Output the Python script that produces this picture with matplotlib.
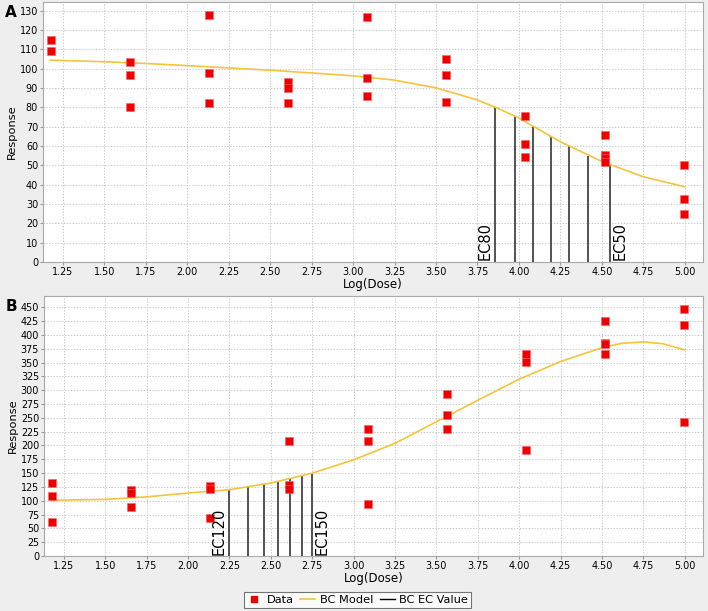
import numpy as np
import matplotlib
matplotlib.use("Agg")
import matplotlib.pyplot as plt
from matplotlib.lines import Line2D

plt.rcParams.update({
    "font.family": "DejaVu Sans",
    "figure.facecolor": "#eeeeee",
})

# ---- data ---------------------------------------------------------------
dose_levels = [1.176, 1.653, 2.130, 2.607, 3.085, 3.562, 4.039, 4.516, 4.993]

# panel A: observed responses per dose level
a_resp = [
    [115, 109],
    [103.5, 97, 80],
    [128, 98, 82],
    [93, 90, 82],
    [127, 95, 86],
    [105, 97, 82.7],
    [75.5, 60.8, 54.5],
    [65.7, 55.3, 53.6, 51.9],
    [50.2, 32.7, 24.6],
]
a_model_x = [1.176, 1.5, 1.75, 2.0, 2.25, 2.5, 2.75, 3.0, 3.25, 3.5, 3.75, 3.86,
             4.0, 4.09, 4.25, 4.5, 4.75, 5.0]
a_model_y = [104.4, 103.6, 102.7, 101.6, 100.4, 99.2, 97.8, 96.3, 94.1, 90.1, 83.8, 80,
             74.5, 70, 62.2, 52.0, 44.1, 38.9]
a_ec_x = [3.855, 3.975, 4.085, 4.192, 4.303, 4.418, 4.55]
a_ec_y = [80, 75, 70, 65, 60, 55, 50]
a_ec_labels = ("EC80", "EC50")

# panel B
b_resp = [
    [132, 108, 61.5],
    [119.4, 114.6, 88.7],
    [126, 120.6, 69.4],
    [209, 129, 122],
    [229, 209, 94.7],
    [293.7, 254.5, 229.2],
    [365, 351, 191.2],
    [425, 385, 383, 365],
    [447.5, 417.4, 242.5],
]
b_model_x = [1.176, 1.25, 1.5, 1.75, 2.0, 2.25, 2.5, 2.75, 3.0, 3.25, 3.5, 3.75,
             4.0, 4.25, 4.5, 4.62, 4.75, 4.87, 5.0]
b_model_y = [101.3, 101.2, 102.5, 107, 114, 120, 132, 150, 174, 204, 243, 282,
             320, 352, 377, 385, 387.5, 384, 373]
b_ec_x = [2.25, 2.361, 2.456, 2.541, 2.618, 2.688, 2.749]
b_ec_y = [120, 125, 130, 135, 140, 145, 150]
b_ec_labels = ("EC120", "EC150")

x_ticks = [1.25 + 0.25 * i for i in range(16)]

RED = "#ee0000"
GOLD = "#f4c53a"
ECC = "#444444"


def panel(ax, resp, mx, my, ecx, ecy, ec_labels, ylim, ystep, tag):
    xs, ys = [], []
    for x, vals in zip(dose_levels, resp):
        xs += [x] * len(vals)
        ys += vals
    ax.set_facecolor("white")
    ax.vlines(ecx, 0, ecy, colors=ECC, lw=1.3, zorder=2)
    ax.plot(mx, my, color=GOLD, lw=1.2, zorder=3)
    ax.plot(xs, ys, ls="none", marker="s", ms=6.4, color=RED, mec="#ff6060",
            mew=0.4, zorder=4)
    ax.text(ecx[0] - 0.015, 1, ec_labels[0], rotation=90, ha="right", va="bottom",
            fontsize=10.5, zorder=5)
    ax.text(ecx[-1] + 0.015, 1, ec_labels[1], rotation=90, ha="left", va="bottom",
            fontsize=10.5, zorder=5)
    ax.set_xlim(1.13, 5.11)
    ax.set_ylim(*ylim)
    ax.set_xticks(x_ticks)
    ax.set_xticklabels([f"{t:.2f}" for t in x_ticks])
    ax.set_yticks(np.arange(0, ylim[1], ystep))
    ax.grid(True, color="#cccccc", ls=(0, (1.5, 1.5)), lw=0.7)
    ax.set_axisbelow(True)
    ax.tick_params(labelsize=6.9, length=2, color="#999999", pad=1.5)
    for s in ax.spines.values():
        s.set_color("#aaaaaa")
    ax.set_xlabel("Log(Dose)", fontsize=8.5, labelpad=1)
    ax.set_ylabel("Response", fontsize=8.2, labelpad=2)
    ax.text(-0.058, 0.99, tag, transform=ax.transAxes, fontsize=11,
            fontweight="bold", ha="left", va="top")


fig = plt.figure(figsize=(7.08, 6.11), dpi=100)
ax_a = fig.add_axes([0.0607, 0.5712, 0.9323, 0.4255])
ax_b = fig.add_axes([0.0621, 0.0900, 0.9309, 0.4255])

panel(ax_a, a_resp, a_model_x, a_model_y, a_ec_x, a_ec_y, a_ec_labels,
      (0, 134.5), 10, "A")
panel(ax_b, b_resp, b_model_x, b_model_y, b_ec_x, b_ec_y, b_ec_labels,
      (0, 470.5), 25, "B")

handles = [
    Line2D([], [], ls="none", marker="s", ms=5, color=RED),
    Line2D([], [], color=GOLD, lw=1.2),
    Line2D([], [], color="black", lw=1.0),
]
leg = fig.legend(handles, ["Data", "BC Model", "BC EC Value"], loc="center",
                 bbox_to_anchor=(0.505, 0.018), ncol=3, fontsize=8.2,
                 frameon=True, fancybox=False, handlelength=1.3,
                 handletextpad=0.4, columnspacing=0.6, borderpad=0.25)
leg.get_frame().set_edgecolor("#555555")
leg.get_frame().set_linewidth(0.8)

fig.savefig("out.png", dpi=100, facecolor=fig.get_facecolor())
